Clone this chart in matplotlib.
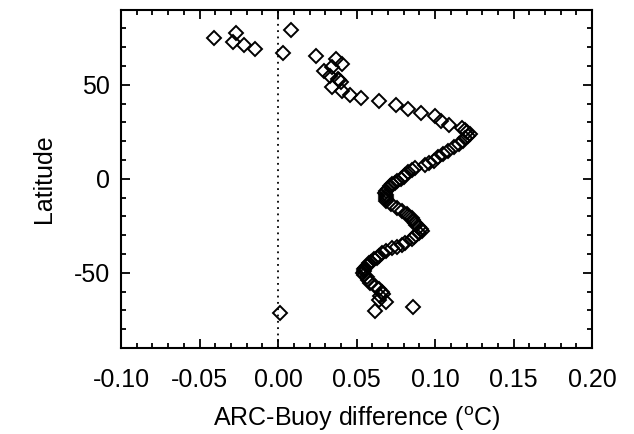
import numpy as np
import matplotlib.pyplot as plt

plt.rcParams['font.family'] = ['Liberation Sans', 'DejaVu Sans']
plt.rcParams['mathtext.fontset'] = 'custom'
plt.rcParams['mathtext.rm'] = 'Liberation Sans'
plt.rcParams['axes.unicode_minus'] = False

# latitude (deg) and ARC minus buoy difference (deg C)
lat = [79.1, 77.4, 75.0, 72.6, 71.1, 69.0, 67.0, 65.2, 63.5, 61.0,
       59.5, 57.2, 54.5, 53.3, 52.3, 51.5, 48.8, 46.5, 44.8, 42.9,
       41.2, 39.0, 36.9, 34.8, 33.2, 30.5, 28.7, 27.1, 25.8, 24.8,
       23.9, 22.8, 21.5, 20.3, 18.6, 16.7, 15.0, 13.2, 11.8, 9.6,
       8.5, 7.3, 5.5, 4.5, 3.4, 2.2, 1.1, 0.0, -1.0, -2.0,
       -2.8, -4.0, -5.5, -6.5, -7.3, -8.5, -9.6, -10.7, -11.8, -13.4,
       -15.3, -17.1, -18.9, -20.0, -20.9, -22.0, -23.4, -24.5, -25.7, -26.8,
       -27.8, -29.0, -29.9, -31.0, -32.2, -34.0, -35.0, -36.0, -37.0, -38.5,
       -39.4, -40.8, -42.1, -42.9, -44.0, -44.9, -45.8, -46.5, -47.3, -48.1,
       -49.1, -50.1, -51.0, -52.3, -53.6, -55.5, -57.2, -58.8, -60.3, -61.2,
       -62.5, -64.3, -65.6, -67.9, -70.2, -71.5]
diff = [0.008, -0.027, -0.041, -0.029, -0.022, -0.015, 0.003, 0.024, 0.037, 0.041,
        0.034, 0.029, 0.033, 0.038, 0.039, 0.040, 0.034, 0.041, 0.046, 0.053,
        0.064, 0.075, 0.083, 0.091, 0.100, 0.104, 0.109, 0.117, 0.119, 0.120,
        0.122, 0.121, 0.119, 0.118, 0.115, 0.112, 0.1085, 0.105, 0.102, 0.099,
        0.096, 0.0935, 0.087, 0.085, 0.083, 0.081, 0.080, 0.078, 0.076, 0.0745,
        0.0725, 0.071, 0.070, 0.069, 0.068, 0.0685, 0.069, 0.069, 0.069, 0.072,
        0.0756, 0.079, 0.082, 0.083, 0.085, 0.086, 0.087, 0.088, 0.090, 0.091,
        0.0915, 0.090, 0.088, 0.0865, 0.085, 0.081, 0.079, 0.076, 0.0725, 0.069,
        0.066, 0.064, 0.063, 0.061, 0.059, 0.058, 0.057, 0.0565, 0.0555, 0.055,
        0.0545, 0.0543, 0.055, 0.0565, 0.0575, 0.0586, 0.062, 0.064, 0.066, 0.067,
        0.065, 0.064, 0.069, 0.086, 0.062, 0.001]

xticks = [-0.10, -0.05, 0.00, 0.05, 0.10, 0.15, 0.20]
yticks = [-50, 0, 50]

fig = plt.figure(figsize=(6.34, 4.34), dpi=100)
ax = fig.add_axes([0.191, 0.198, 0.743, 0.780])

ax.axvline(0, color='black', linestyle=(0, (1, 2.5)), linewidth=1.3)
ax.plot(diff, lat, linestyle='none', marker='D', markersize=7.3,
        markerfacecolor='none', markeredgecolor='black', markeredgewidth=1.4)

ax.set_xlim(-0.10, 0.20)
ax.set_ylim(-90, 90)
ax.set_xticks(xticks)
ax.set_xticklabels(['%.2f' % v for v in xticks])
ax.set_yticks(yticks)
ax.set_xticks(np.arange(-0.10, 0.2001, 0.01), minor=True)
ax.set_yticks(np.arange(-90, 91, 10), minor=True)

ax.tick_params(which='both', direction='in', top=True, right=True,
               width=1.3, color='black')
ax.tick_params(which='major', length=6.5, labelsize=18)
ax.tick_params(which='minor', length=3.5)
ax.tick_params(axis='x', which='major', pad=14)
ax.tick_params(axis='y', which='major', pad=8)
for s in ax.spines.values():
    s.set_linewidth(1.5)

ax.set_xlabel('ARC-Buoy difference ($^{\\mathrm{o}}$C)', fontsize=18, labelpad=9)
ax.set_ylabel('Latitude', fontsize=18, labelpad=13)

fig.savefig('out.png', dpi=100)
